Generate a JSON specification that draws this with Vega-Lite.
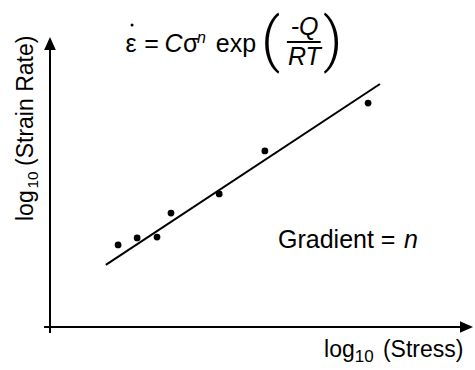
{
  "$schema": "https://vega.github.io/schema/vega-lite/v6.json",
  "width": 423,
  "height": 290,
  "autosize": {"type": "none"},
  "padding": {"left": 50, "top": 37, "right": 2, "bottom": 43},
  "background": "white",
  "config": {
    "view": {"stroke": null},
    "text": {"font": "Liberation Sans", "color": "black", "align": "left", "baseline": "alphabetic"}
  },
  "datasets": {
    "axes": [
      {"log_stress": -0.14, "log_strain_rate": 0, "log_stress_end": 9.8, "log_strain_rate_end": 0},
      {"log_stress": 0, "log_strain_rate": -0.21, "log_stress_end": 0, "log_strain_rate_end": 9.7}
    ],
    "x_tip": [{"log_stress": 10, "log_strain_rate": 0}],
    "y_tip": [{"log_stress": 0, "log_strain_rate": 10}],
    "fit": [
      {"log_stress": 1.32, "log_strain_rate": 2.14},
      {"log_stress": 7.8, "log_strain_rate": 8.38}
    ],
    "obs": [
      {"log_stress": 1.61, "log_strain_rate": 2.83},
      {"log_stress": 2.06, "log_strain_rate": 3.07},
      {"log_stress": 2.53, "log_strain_rate": 3.1},
      {"log_stress": 2.86, "log_strain_rate": 3.93},
      {"log_stress": 4.0, "log_strain_rate": 4.59},
      {"log_stress": 5.08, "log_strain_rate": 6.07},
      {"log_stress": 7.52, "log_strain_rate": 7.72}
    ],
    "eq_dot": [{"log_stress": 1.94, "log_strain_rate": 10.41}],
    "eq_upright": [
      {"log_stress": 1.785, "log_strain_rate": 9.48, "label": "ε"},
      {"log_stress": 2.227, "log_strain_rate": 9.48, "label": "="},
      {"log_stress": 3.144, "log_strain_rate": 9.48, "label": "σ"},
      {"log_stress": 3.92, "log_strain_rate": 9.48, "label": "exp"}
    ],
    "eq_italic": [
      {"log_stress": 2.707, "log_strain_rate": 9.48, "label": "C"},
      {"log_stress": 5.69, "log_strain_rate": 10.07, "label": "-Q"},
      {"log_stress": 5.627, "log_strain_rate": 9.03, "label": "RT"}
    ],
    "eq_power": [{"log_stress": 3.475, "log_strain_rate": 9.79, "label": "n"}],
    "eq_bar": [{"log_stress": 5.6, "log_strain_rate": 9.83, "log_stress_end": 6.4}],
    "eq_parens": [
      {"log_stress": 4.99, "log_strain_rate": 9.21, "label": "("},
      {"log_stress": 6.454, "log_strain_rate": 9.21, "label": ")"}
    ],
    "gradient": [{"log_stress": 5.39, "log_strain_rate": 2.72, "label": "Gradient ="}],
    "gradient_n": [{"log_stress": 8.37, "log_strain_rate": 2.72, "label": "n"}],
    "x_title": [
      {"log_stress": 6.478, "log_strain_rate": -1.034, "label": "log"},
      {"log_stress": 7.87, "log_strain_rate": -1.034, "label": "(Stress)"}
    ],
    "x_title_sub": [{"log_stress": 7.203, "log_strain_rate": -1.207, "label": "10"}],
    "y_title": [
      {"log_stress": -0.402, "log_strain_rate": 3.655, "label": "log"},
      {"log_stress": -0.402, "log_strain_rate": 5.552, "label": "(Strain Rate)"}
    ],
    "y_title_sub": [{"log_stress": -0.284, "log_strain_rate": 4.776, "label": "10"}]
  },
  "encoding": {
    "x": {"field": "log_stress", "type": "quantitative", "scale": {"domain": [0, 10], "nice": false, "zero": false}, "axis": null},
    "y": {"field": "log_strain_rate", "type": "quantitative", "scale": {"domain": [0, 10], "nice": false, "zero": false}, "axis": null}
  },
  "layer": [
    {
      "data": {"name": "axes"},
      "mark": {"type": "rule", "color": "black", "strokeWidth": 2},
      "encoding": {
        "x2": {"field": "log_stress_end"},
        "y2": {"field": "log_strain_rate_end"}
      }
    },
    {
      "data": {"name": "x_tip"},
      "mark": {"type": "point", "shape": "M-2,-0.9L0,0L-2,0.9Z", "size": 169, "filled": true, "color": "black", "opacity": 1}
    },
    {
      "data": {"name": "y_tip"},
      "mark": {"type": "point", "shape": "M-0.9,2L0,0L0.9,2Z", "size": 169, "filled": true, "color": "black", "opacity": 1}
    },
    {
      "data": {"name": "fit"},
      "mark": {"type": "line", "color": "black", "strokeWidth": 2}
    },
    {
      "data": {"name": "obs"},
      "mark": {"type": "point", "shape": "circle", "size": 46, "filled": true, "color": "black", "opacity": 1}
    },
    {
      "data": {"name": "eq_dot"},
      "mark": {"type": "point", "shape": "circle", "size": 9, "filled": true, "color": "black", "opacity": 1}
    },
    {
      "data": {"name": "eq_upright"},
      "mark": {"type": "text", "fontSize": 25},
      "encoding": {"text": {"field": "label"}}
    },
    {
      "data": {"name": "eq_italic"},
      "mark": {"type": "text", "fontSize": 25, "fontStyle": "italic"},
      "encoding": {"text": {"field": "label"}}
    },
    {
      "data": {"name": "eq_power"},
      "mark": {"type": "text", "fontSize": 16, "fontStyle": "italic"},
      "encoding": {"text": {"field": "label"}}
    },
    {
      "data": {"name": "eq_bar"},
      "mark": {"type": "rule", "color": "black", "strokeWidth": 2},
      "encoding": {"x2": {"field": "log_stress_end"}}
    },
    {
      "data": {"name": "eq_parens"},
      "mark": {"type": "text", "font": "Roboto", "fontWeight": 300, "fontSize": 60},
      "encoding": {"text": {"field": "label"}}
    },
    {
      "data": {"name": "gradient"},
      "mark": {"type": "text", "fontSize": 25},
      "encoding": {"text": {"field": "label"}}
    },
    {
      "data": {"name": "gradient_n"},
      "mark": {"type": "text", "fontSize": 25, "fontStyle": "italic"},
      "encoding": {"text": {"field": "label"}}
    },
    {
      "data": {"name": "x_title"},
      "mark": {"type": "text", "fontSize": 23},
      "encoding": {"text": {"field": "label"}}
    },
    {
      "data": {"name": "x_title_sub"},
      "mark": {"type": "text", "fontSize": 17},
      "encoding": {"text": {"field": "label"}}
    },
    {
      "data": {"name": "y_title"},
      "mark": {"type": "text", "fontSize": 23, "angle": 270},
      "encoding": {"text": {"field": "label"}}
    },
    {
      "data": {"name": "y_title_sub"},
      "mark": {"type": "text", "fontSize": 15.5, "angle": 270},
      "encoding": {"text": {"field": "label"}}
    }
  ]
}
